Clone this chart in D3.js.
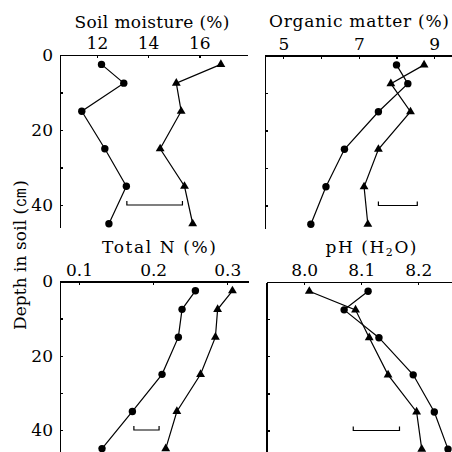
<!DOCTYPE html>
<html>
<meta charset="utf-8">
<head>
<style>
body { margin: 0; background: #fff; }
svg { display: block; }
.axis path, .axis line { fill: none; stroke: #000; stroke-width: 1.3; shape-rendering: crispEdges; }
.axis text, .title { font-family: "DejaVu Serif", "Noto Serif", "Times New Roman", Times, "Liberation Serif", serif; font-size: 17px; fill: #000; }
.series { fill: none; stroke: #000; stroke-width: 1.2; }
.lsd { fill: none; stroke: #000; stroke-width: 1.2; }
</style>
</head>
<body>
<svg width="452" height="452"></svg>
<script src="https://d3js.org/d3.v7.min.js"></script>
<script>

// sampling depths (cm) shared by all four profiles
var depths = [2.5, 7.5, 15, 25, 35, 45];

// soil moisture (%)
var moistureCircle   = [12.18, 13.05, 11.41, 12.31, 13.15, 12.47];
var moistureTriangle = [16.84, 15.10, 15.29, 14.47, 15.42, 15.74];
var moistureTicks = [12, 14, 16];

// organic matter (%)
var organicCircle   = [8.00, 8.30, 7.52, 6.62, 6.13, 5.73];
var organicTriangle = [8.73, 7.85, 8.37, 7.52, 7.14, 7.24];
var organicTicks = [5, 6, 7, 8, 9];
var organicLabels = [5, 7, 9];

// total N (%)
var nitrogenCircle   = [0.257, 0.239, 0.234, 0.212, 0.172, 0.131];
var nitrogenTriangle = [0.307, 0.287, 0.284, 0.264, 0.232, 0.217];
var nitrogenTicks = [0.1, 0.2, 0.3];

// pH (H2O)
var phCircle   = [8.112, 8.070, 8.131, 8.191, 8.228, 8.252];
var phTriangle = [8.009, 8.090, 8.114, 8.147, 8.197, 8.206];
var phTicks = [8.0, 8.1, 8.2];

// LSD bars: [from, to, depth]
var lsdMoisture = [13.17, 15.34, 40];
var lsdOrganic  = [7.52, 8.55, 40];
var lsdNitrogen = [0.174, 0.208, 40];
var lsdPh       = [8.086, 8.167, 40];

var depthTicks = [0, 10, 20, 30, 40];
var depthLabels = [0, 20, 40];

var svg = d3.select("svg");

var panels = [
  { title: "Soil moisture (%)", titleX: 152, titleY: 28, titleW: 155,
    xd: [10.56, 17.86], xr: [60, 247], yr: [55, 227.5],
    ticks: moistureTicks, labels: moistureTicks, fmt: d3.format("d"),
    circle: moistureCircle, triangle: moistureTriangle, lsd: lsdMoisture, yLabels: true },
  { title: "Organic matter (%)", titleX: 359, titleY: 27, titleW: 180,
    xd: [4.515, 9.47], xr: [265, 452], yr: [55.5, 228],
    ticks: organicTicks, labels: organicLabels, fmt: d3.format("d"),
    circle: organicCircle, triangle: organicTriangle, lsd: lsdOrganic, yLabels: false },
  { title: "Total N (%)", titleX: 159, titleY: 253, titleW: 114,
    xd: [0.0743, 0.328], xr: [60, 248], yr: [281.5, 452.3],
    ticks: nitrogenTicks, labels: nitrogenTicks, fmt: d3.format(".1f"),
    circle: nitrogenCircle, triangle: nitrogenTriangle, lsd: lsdNitrogen, yLabels: true },
  { title: null, titleX: 371, titleY: 253, titleW: 91,
    xd: [7.934, 8.259], xr: [266.5, 452], yr: [282, 452.8],
    ticks: phTicks, labels: phTicks, fmt: d3.format(".1f"),
    circle: phCircle, triangle: phTriangle, lsd: lsdPh, yLabels: false }
];

var triangle = d3.symbol().type(d3.symbolTriangle).size(34);

panels.forEach(function(p) {
  var x = d3.scaleLinear().domain(p.xd).range(p.xr);
  var y = d3.scaleLinear().domain([0, 46]).range(p.yr);

  var xAxis = d3.axisTop(x)
    .tickValues(p.ticks)
    .tickSizeInner(-3)
    .tickSizeOuter(0)
    .tickPadding(6)
    .tickFormat(function(d) { return p.labels.indexOf(d) >= 0 ? p.fmt(d) : ""; });

  var yAxis = d3.axisLeft(y)
    .tickValues(depthTicks)
    .tickSizeInner(-3)
    .tickSizeOuter(0)
    .tickPadding(7)
    .tickFormat(function(d) { return p.yLabels && depthLabels.indexOf(d) >= 0 ? d : ""; });

  svg.append("g").attr("class", "axis")
    .attr("transform", "translate(0," + p.yr[0] + ")")
    .call(xAxis)
    .attr("font-family", null).attr("font-size", null);

  svg.append("g").attr("class", "axis")
    .attr("transform", "translate(" + p.xr[0] + ",0)")
    .call(yAxis)
    .attr("font-family", null).attr("font-size", null);

  // title
  var t = svg.append("text").attr("class", "title")
    .attr("x", p.titleX).attr("y", p.titleY)
    .attr("text-anchor", "middle")
    .attr("textLength", p.titleW)
    .attr("lengthAdjust", "spacing");
  if (p.title) {
    t.text(p.title);
  } else {
    t.append("tspan").text("pH (H");
    t.append("tspan").attr("font-size", 11).attr("dy", 3).text("2");
    t.append("tspan").attr("dy", -3).text("O)");
  }

  var line = d3.line()
    .x(function(d) { return x(d[0]); })
    .y(function(d) { return y(d[1]); });

  var circ = d3.zip(p.circle, depths);
  var tri = d3.zip(p.triangle, depths);

  svg.append("path").attr("class", "series").attr("d", line(circ));
  svg.append("path").attr("class", "series").attr("d", line(tri));

  svg.append("g").selectAll("circle")
    .data(circ).enter().append("circle")
    .attr("cx", function(d) { return x(d[0]); })
    .attr("cy", function(d) { return y(d[1]); })
    .attr("r", 3.7)
    .attr("fill", "#000");

  svg.append("g").selectAll("path")
    .data(tri).enter().append("path")
    .attr("d", triangle)
    .attr("transform", function(d) { return "translate(" + x(d[0]) + "," + y(d[1]) + ")"; })
    .attr("fill", "#000");

  // LSD bar, ends turned up
  var x0 = x(p.lsd[0]), x1 = x(p.lsd[1]), yy = y(p.lsd[2]);
  svg.append("path").attr("class", "lsd")
    .attr("d", "M" + x0 + "," + (yy - 4) + "V" + yy + "H" + x1 + "V" + (yy - 4));
});

// shared depth label
var yl = svg.append("text").attr("class", "title")
  .attr("transform", "translate(26,255) rotate(-90)")
  .attr("text-anchor", "middle")
  .attr("textLength", 150)
  .attr("lengthAdjust", "spacing");
yl.append("tspan").text("Depth in soil (");
yl.append("tspan").attr("font-size", 21).text("㎝");
yl.append("tspan").text(")");

</script>
</body>
</html>
